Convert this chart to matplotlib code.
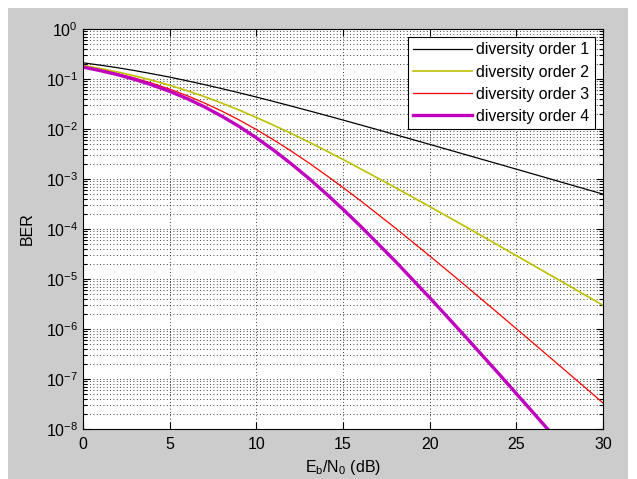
import matplotlib
matplotlib.use("Agg")
import matplotlib.pyplot as plt
from matplotlib.patches import Rectangle
from matplotlib.ticker import LogLocator, NullFormatter, MultipleLocator

plt.rcParams["font.family"] = ["Liberation Sans", "DejaVu Sans"]
plt.rcParams["mathtext.default"] = "regular"

# Eb/N0 points (dB) and BER
ebn0 = [0, 1, 2, 3, 4, 5, 6, 7, 8, 9, 10, 11, 12, 13, 14, 15, 16,
        18, 20, 22, 24, 26, 28, 30]
ber_div1 = [0.211, 0.189, 0.168, 0.147, 0.127, 0.109, 0.0921, 0.0773, 0.0643,
            0.0531, 0.0436, 0.0355, 0.0288, 0.0233, 0.0188, 0.0151, 0.0121,
            0.00774, 0.00493, 0.00312, 0.00198, 0.00125, 0.00079, 0.000499]
ber_div2 = [0.187, 0.162, 0.138, 0.115, 0.0941, 0.0750, 0.0584, 0.0444, 0.0330,
            0.0240, 0.0170, 0.0119, 0.00819, 0.00555, 0.00371, 0.00246, 0.00161,
            6.80e-4, 2.81e-4, 1.15e-4, 4.63e-5, 1.86e-5, 7.46e-6, 2.98e-6]
ber_div3 = [0.178, 0.152, 0.127, 0.104, 0.0821, 0.0628, 0.0465, 0.0332, 0.0229,
            0.0152, 0.00975, 0.00605, 0.00364, 0.00213, 0.00121, 6.76e-4, 3.70e-4,
            1.06e-4, 2.90e-5, 7.69e-6, 2.00e-6, 5.14e-7, 1.31e-7, 3.32e-8]
ber_div4 = [0.173, 0.147, 0.122, 0.0977, 0.0758, 0.0566, 0.0406, 0.0278, 0.0181,
            0.0113, 0.00667, 0.00377, 0.00203, 0.00105, 5.19e-4, 2.48e-4, 1.15e-4,
            2.30e-5, 4.24e-6, 7.43e-7, 1.26e-7, 2.07e-8, 3.38e-9]

labels = ["diversity order 1", "diversity order 2", "diversity order 3", "diversity order 4"]
colors = ["#000000", "#bfbf00", "#ff0000", "#bf00bf"]
widths = [0.9, 1.2, 0.9, 2.4]

fig = plt.figure(figsize=(6.37, 4.79), dpi=100, facecolor="white")
# MATLAB-style grey figure panel
fig.patches.append(Rectangle((8 / 637, 0), 620 / 637, 471 / 479, transform=fig.transFigure,
                             facecolor="#cccccc", edgecolor="none", zorder=-10))

ax = fig.add_axes([83 / 637, 50 / 479, 520 / 637, 400 / 479])
ax.set_facecolor("white")

series = [ber_div1, ber_div2, ber_div3, ber_div4]
for ys, lab, c, w in zip(series, labels, colors, widths):
    ax.semilogy(ebn0[:len(ys)], ys, color=c, linewidth=w, label=lab)

ax.set_xlim(0, 30)
ax.set_ylim(1e-8, 1)
ax.xaxis.set_major_locator(MultipleLocator(5))
ax.yaxis.set_major_locator(LogLocator(base=10, numticks=20))
ax.yaxis.set_minor_locator(LogLocator(base=10, subs=range(2, 10), numticks=20))
ax.yaxis.set_minor_formatter(NullFormatter())

grid_style = dict(color="black", linestyle=(0, (1, 3)), linewidth=0.6)
ax.grid(True, which="major", axis="both", **grid_style)
ax.grid(True, which="minor", axis="y", **grid_style)
ax.set_axisbelow(True)

ax.tick_params(which="both", direction="in", top=True, right=True, labelsize=11.5, width=0.8)
ax.tick_params(which="major", length=5)
ax.tick_params(which="minor", length=3)
ax.tick_params(axis="x", pad=6)
for s in ax.spines.values():
    s.set_linewidth(0.8)

ax.set_xlabel(r"E$_b$/N$_0$ (dB)", fontsize=11.5, labelpad=4)
ax.set_ylabel("BER", fontsize=11.5, labelpad=8)

leg = ax.legend(loc="upper right", fontsize=11.4, frameon=True, fancybox=False,
                edgecolor="black", framealpha=1, handlelength=3.7, handletextpad=0.3,
                labelspacing=0.45, borderpad=0.35, borderaxespad=0.5)
leg.get_frame().set_linewidth(0.8)

fig.savefig("out.png", dpi=100, facecolor=fig.get_facecolor())
